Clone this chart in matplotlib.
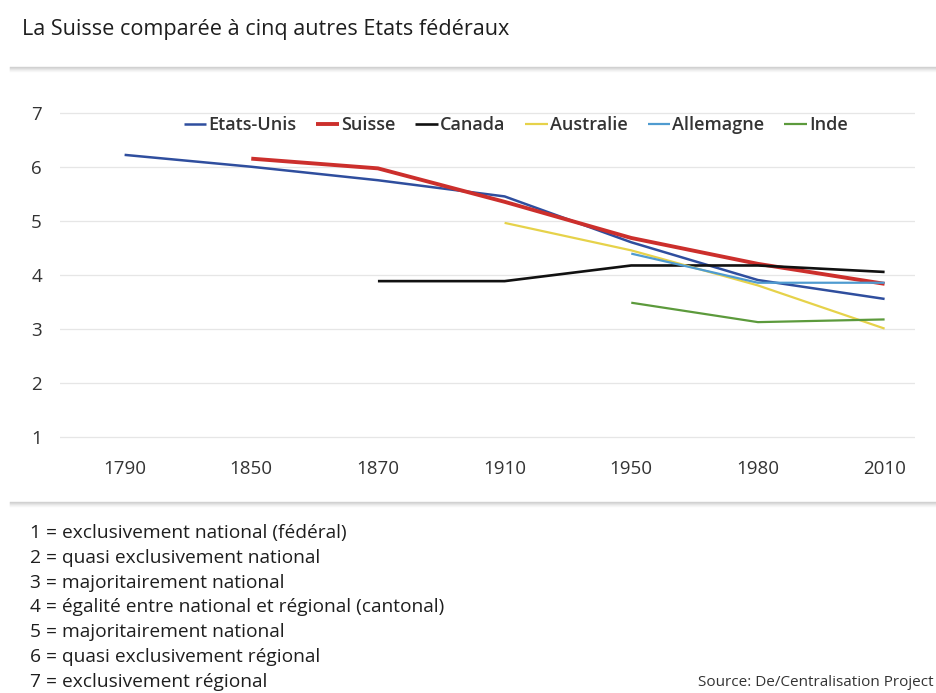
import matplotlib.pyplot as plt
import numpy as np

years = ['1790', '1850', '1870', '1910', '1950', '1980', '2010']

# scores per country, None where the country did not exist yet
etats_unis = [6.22, 6.0, 5.75, 5.45, 4.6, 3.9, 3.55]
suisse = [None, 6.15, 5.97, 5.35, 4.68, 4.2, 3.83]
canada = [None, None, 3.88, 3.88, 4.17, 4.17, 4.05]
australie = [None, None, None, 4.96, 4.45, 3.8, 3.0]
allemagne = [None, None, None, None, 4.39, 3.85, 3.85]
inde = [None, None, None, None, 3.48, 3.12, 3.17]

series = [
    ('Etats-Unis', etats_unis, '#2f4e9e', 1.8),
    ('Suisse', suisse, '#cc2f2c', 2.8),
    ('Canada', canada, '#111111', 1.9),
    ('Australie', australie, '#e6d24a', 1.6),
    ('Allemagne', allemagne, '#4f9bd0', 1.6),
    ('Inde', inde, '#5c9a3c', 1.6),
]

notes = [
    '1 = exclusivement national (fédéral)',
    '2 = quasi exclusivement national',
    '3 = majoritairement national',
    '4 = égalité entre national et régional (cantonal)',
    '5 = majoritairement national',
    '6 = quasi exclusivement régional',
    '7 = exclusivement régional',
]

FONT = ['Open Sans', 'DejaVu Sans']

fig = plt.figure(figsize=(9.37, 6.93), dpi=100)
ax = fig.add_axes([60/937, 1-450/693, 855/937, 348/693])

x = np.arange(len(years))
for name, vals, col, lw in series:
    y = np.array([np.nan if v is None else v for v in vals])
    ax.plot(x, y, color=col, lw=lw, label=name, solid_capstyle='butt')

ax.set_xlim(-0.51, 6.24)
ax.set_ylim(0.75, 7.2)
ax.set_xticks(x)
ax.set_xticklabels(years)
ax.set_yticks(range(1, 8))
ax.tick_params(length=0, labelsize=13.5, colors='#333333')
ax.tick_params(axis='y', pad=13)
ax.tick_params(axis='x', pad=7)
for t in ax.get_xticklabels() + ax.get_yticklabels():
    t.set_family(FONT)
ax.grid(axis='y', color='#e6e6e6', lw=0.9)
ax.set_axisbelow(True)
for s in ax.spines.values():
    s.set_visible(False)

leg = ax.legend(loc='center', bbox_to_anchor=(0.533, 0.934), ncol=6,
                frameon=False, handlelength=1.25, handletextpad=0.12,
                columnspacing=1.1,
                prop={'family': FONT, 'size': 13, 'weight': 'semibold'})
for t in leg.get_texts():
    t.set_color('#333333')

# title and separator bars
fig.text(22/937, 1-29/693, 'La Suisse comparée à cinq autres Etats fédéraux',
         fontsize=15.6, family=FONT, color='#1e1e1e', va='center')
for yp in (67, 502):
    for k, c in enumerate(['#d0d0d0', '#d8d8d8', '#e4e4e4', '#eeeeee', '#f6f6f6']):
        fig.add_artist(plt.Line2D([10/937, 1], [1-(yp+k)/693]*2,
                                  color=c, lw=1.0, transform=fig.transFigure))

# scale explanation
for i, line in enumerate(notes):
    fig.text(30/937, 1-(533 + i*24.8)/693, line, fontsize=13.8,
             family=FONT, color='#1e1e1e', va='center')
fig.text(934/937, 1-683/693, 'Source: De/Centralisation Project', fontsize=11,
         family=FONT, color='#333333', ha='right', va='center')

fig.savefig('out.png', dpi=100, facecolor='white')
